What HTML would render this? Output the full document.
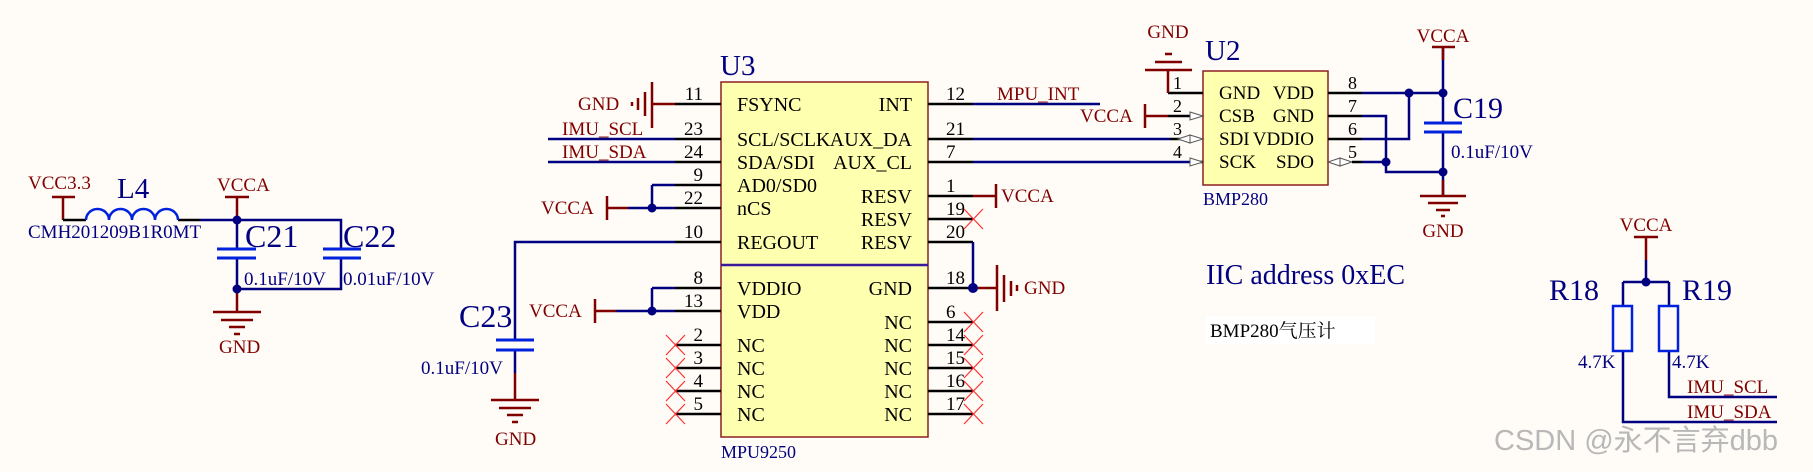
<!DOCTYPE html>
<html><head><meta charset="utf-8"><style>
html,body{margin:0;padding:0;background:#fffbf6;}
svg{display:block;}
text{font-family:"Liberation Serif",serif;}
.r{fill:#800000}.b{fill:#000080}.k{fill:#000}
</style></head><body>
<svg width="1813" height="472" viewBox="0 0 1813 472" xmlns="http://www.w3.org/2000/svg">
<rect width="1813" height="472" fill="#fffbf6"/>
<g stroke-width="2.5" fill="none">
<path d="M52,197H75M63,197V220" stroke="#800000"/>
<path d="M63,220H86M178,220H200" stroke="#000"/>
<path d="M86,220a11.5,11 0 0 1 23,0a11.5,11 0 0 1 23,0a11.5,11 0 0 1 23,0a11.5,11 0 0 1 23,0" stroke="#0022dd"/>
<path d="M200,220H341V249M237,220V249M237,258V289H341V258" stroke="#000080"/>
<path d="M225,197H249M237,197V220" stroke="#800000"/>
<path d="M217,249H256M217,258H256M323,249H361M323,258H361" stroke="#0022dd" stroke-width="3"/>
<path d="M237,289V312M213,312H261M221,320H253M229,327H245M234,334H240" stroke="#800000"/>
</g>
<circle cx="237" cy="220" r="4.5" fill="#000080"/><circle cx="237" cy="289" r="4.5" fill="#000080"/>
<text x="28" y="189" font-size="19" class="r">VCC3.3</text>
<text x="117" y="198" font-size="29" class="b">L4</text>
<text x="28" y="238" font-size="19" class="b">CMH201209B1R0MT</text>
<text x="217" y="191" font-size="19" class="r">VCCA</text>
<text x="245" y="247" font-size="32" class="b">C21</text>
<text x="343" y="247" font-size="32" class="b">C22</text>
<text x="244" y="285" font-size="19" class="b">0.1uF/10V</text>
<text x="343" y="285" font-size="19" class="b">0.01uF/10V</text>
<text x="219" y="353" font-size="19" class="r">GND</text>

<rect x="721" y="82" width="207" height="355" fill="#ffffb0" stroke="#8b2020" stroke-width="1.5"/>
<path d="M721,265H928" stroke="#3a1a9a" stroke-width="2.5"/>
<text x="720" y="75" font-size="29" class="b">U3</text>
<text x="721" y="458" font-size="18" class="b">MPU9250</text>
<g stroke="#000" stroke-width="2.5">
<path d="M675,104H721M675,139H721M675,162H721M675,185H721M675,208H721M675,242H721M675,288H721M675,311H721M675,345H721M675,368H721M675,391H721M675,414H721"/>
<path d="M928,104H973M928,139H973M928,162H973M928,196H973M928,219H973M928,242H973M928,288H973M928,322H973M928,345H973M928,368H973M928,391H973M928,414H973"/>
</g>
<g font-size="19" class="k" text-anchor="end">
<text x="703" y="100">11</text><text x="703" y="135">23</text><text x="703" y="158">24</text><text x="703" y="181">9</text><text x="703" y="204">22</text><text x="703" y="238">10</text><text x="703" y="284">8</text><text x="703" y="307">13</text><text x="703" y="341">2</text><text x="703" y="364">3</text><text x="703" y="387">4</text><text x="703" y="410">5</text>
</g>
<g font-size="19" class="k">
<text x="946" y="100">12</text><text x="946" y="135">21</text><text x="946" y="158">7</text><text x="946" y="192">1</text><text x="946" y="215">19</text><text x="946" y="238">20</text><text x="946" y="284">18</text><text x="946" y="318">6</text><text x="946" y="341">14</text><text x="946" y="364">15</text><text x="946" y="387">16</text><text x="946" y="410">17</text>
</g>
<g font-size="20" class="k">
<text x="737" y="111">FSYNC</text><text x="737" y="146">SCL/SCLK</text><text x="737" y="169">SDA/SDI</text><text x="737" y="192">AD0/SD0</text><text x="737" y="215">nCS</text><text x="737" y="249">REGOUT</text><text x="737" y="295">VDDIO</text><text x="737" y="318">VDD</text><text x="737" y="352">NC</text><text x="737" y="375">NC</text><text x="737" y="398">NC</text><text x="737" y="421">NC</text>
</g>
<g font-size="20" class="k" text-anchor="end">
<text x="912" y="111">INT</text><text x="912" y="146">AUX_DA</text><text x="912" y="169">AUX_CL</text><text x="912" y="203">RESV</text><text x="912" y="226">RESV</text><text x="912" y="249">RESV</text><text x="912" y="295">GND</text><text x="912" y="329">NC</text><text x="912" y="352">NC</text><text x="912" y="375">NC</text><text x="912" y="398">NC</text><text x="912" y="421">NC</text>
</g>
<g stroke="#ff3030" stroke-width="1.2">
<path d="M666,335L685,355M685,335L666,355M666,358L685,378M685,358L666,378M666,381L685,401M685,381L666,401M666,404L685,424M685,404L666,424"/>
<path d="M964,209L983,229M983,209L964,229M964,312L983,332M983,312L964,332M964,335L983,355M983,335L964,355M964,358L983,378M983,358L964,378M964,381L983,401M983,381L964,401M964,404L983,424M983,404L964,424"/>
</g>
<g stroke-width="2.5" fill="none">
<path d="M652,104H675M652,82V128M645,92V116M638,98V110M632,102V106" stroke="#800000"/>
<path d="M548,139H675M548,162H675" stroke="#000080"/>
<path d="M652,185H675M652,185V208M628,208H675" stroke="#000080"/>
<path d="M607,208H628M607,196V220" stroke="#800000"/>
<path d="M675,242H515V340M515,350V373" stroke="#000080"/>
<path d="M496,340H534M496,350H534" stroke="#0022dd" stroke-width="3"/>
<path d="M515,373V400M491,400H539M499,408H531M507,415H523M512,422H518" stroke="#800000"/>
<path d="M652,288H675M652,288V311M616,311H675" stroke="#000080"/>
<path d="M595,311H616M595,299V323" stroke="#800000"/>
</g>
<circle cx="652" cy="208" r="4.5" fill="#000080"/><circle cx="652" cy="311" r="4.5" fill="#000080"/>
<text x="578" y="110" font-size="19" class="r">GND</text>
<text x="562" y="135" font-size="19" class="r">IMU_SCL</text>
<text x="562" y="158" font-size="19" class="r">IMU_SDA</text>
<text x="541" y="214" font-size="19" class="r">VCCA</text>
<text x="529" y="317" font-size="19" class="r">VCCA</text>
<text x="459" y="327" font-size="32" class="b">C23</text>
<text x="421" y="374" font-size="19" class="b">0.1uF/10V</text>
<text x="495" y="445" font-size="19" class="r">GND</text>
<g stroke-width="2.5" fill="none">
<path d="M973,104H1100M973,139H1170M973,162H1190" stroke="#000080"/>
<path d="M973,196H996M996,184V208" stroke="#800000"/>
<path d="M973,242V288" stroke="#000080"/>
<path d="M973,288H997M997,265V311M1004,275V302M1011,281V296M1017,285V291" stroke="#800000"/>
</g>
<circle cx="973" cy="288" r="5" fill="#000080"/>
<text x="997" y="100" font-size="19" class="r">MPU_INT</text>
<text x="1001" y="202" font-size="19" class="r">VCCA</text>
<text x="1024" y="294" font-size="19" class="r">GND</text>
<rect x="1203" y="71" width="125" height="114" fill="#ffffb0" stroke="#8b2020" stroke-width="1.5"/>
<text x="1205" y="60" font-size="29" class="b">U2</text>
<text x="1203" y="205" font-size="18" class="b">BMP280</text>
<g stroke-width="2.5" fill="none">
<path d="M1168,93H1203M1170,139H1190M1168,116H1190M1190,162H1203" stroke="#000"/>
<path d="M1168,70V93M1145,70H1192M1155,62H1182M1165,54H1172" stroke="#800000"/>
<path d="M1145,116H1168M1145,104V128" stroke="#800000"/>
</g>
<g fill="#fff" stroke="#555" stroke-width="1">
<path d="M1190,112L1203,116L1190,120Z"/><path d="M1190,135L1203,139L1190,143Z"/><path d="M1190,135L1178,139L1190,143Z"/><path d="M1190,158L1203,162L1190,166Z"/>
<path d="M1340,158L1328,162L1340,166Z"/><path d="M1340,158L1352,162L1340,166Z"/>
</g>
<g font-size="18" class="k">
<text x="1173" y="89">1</text><text x="1173" y="112">2</text><text x="1173" y="135">3</text><text x="1173" y="158">4</text>
<text x="1348" y="89">8</text><text x="1348" y="112">7</text><text x="1348" y="135">6</text><text x="1348" y="158">5</text>
</g>
<g font-size="19" class="k">
<text x="1219" y="99">GND</text><text x="1219" y="122">CSB</text><text x="1219" y="145">SDI</text><text x="1219" y="168">SCK</text>
</g>
<g font-size="19" class="k" text-anchor="end">
<text x="1314" y="99">VDD</text><text x="1314" y="122">GND</text><text x="1314" y="145">VDDIO</text><text x="1314" y="168">SDO</text>
</g>
<text x="1168" y="38" font-size="19" class="r" text-anchor="middle">GND</text>
<text x="1080" y="122" font-size="19" class="r">VCCA</text>
<g stroke-width="2.5" fill="none">
<path d="M1328,93H1362M1328,116H1362M1328,139H1362M1352,162H1362" stroke="#000"/>
<path d="M1362,93H1443M1409,93V139H1362M1362,116H1386V172H1443M1362,162H1386M1443,47V93M1443,93V123M1443,132V172V196" stroke="#000080"/>
<path d="M1432,47H1455M1443,47V60" stroke="#800000"/>
<path d="M1424,123H1462M1424,132H1462" stroke="#0022dd" stroke-width="3"/>
<path d="M1443,180V196M1420,196H1466M1428,203H1458M1436,210H1450M1441,216H1445" stroke="#800000"/>
</g>
<g fill="#000080"><circle cx="1409" cy="93" r="4.5"/><circle cx="1443" cy="93" r="4.5"/><circle cx="1386" cy="162" r="4.5"/><circle cx="1443" cy="172" r="4.5"/></g>
<text x="1443" y="42" font-size="19" class="r" text-anchor="middle">VCCA</text>
<text x="1453" y="118" font-size="30" class="b">C19</text>
<text x="1451" y="158" font-size="19" class="b">0.1uF/10V</text>
<text x="1443" y="237" font-size="19" class="r" text-anchor="middle">GND</text>
<text x="1206" y="284" font-size="28" class="b">IIC address  0xEC</text>
<rect x="1206" y="316" width="169" height="28" fill="#fff"/>
<text x="1210" y="337" font-size="19" class="k" style='font-family:"Liberation Serif","Noto Serif CJK SC",serif'>BMP280气压计</text>
<g stroke-width="2.5" fill="none">
<path d="M1634,237H1658M1646,237V260" stroke="#800000"/>
<path d="M1646,260V282M1623,282H1669M1623,282V306M1669,282V306M1623,351V422H1777M1669,351V397H1777" stroke="#000080"/>
<rect x="1613" y="306" width="19" height="45" stroke="#0022dd"/>
<rect x="1659" y="306" width="19" height="45" stroke="#0022dd"/>
</g>
<circle cx="1646" cy="282" r="4.5" fill="#000080"/>
<text x="1646" y="231" font-size="19" class="r" text-anchor="middle">VCCA</text>
<text x="1549" y="300" font-size="30" class="b">R18</text>
<text x="1682" y="300" font-size="30" class="b">R19</text>
<text x="1578" y="368" font-size="19" class="b">4.7K</text>
<text x="1672" y="368" font-size="19" class="b">4.7K</text>
<text x="1687" y="393" font-size="19" class="r">IMU_SCL</text>
<text x="1687" y="418" font-size="19" class="r">IMU_SDA</text>
<text x="1494" y="450" font-size="29" fill="#b8b8b8" style='font-family:"Liberation Sans","Noto Sans CJK SC",sans-serif'>CSDN @永不言弃dbb</text>
</svg>
</body></html>
